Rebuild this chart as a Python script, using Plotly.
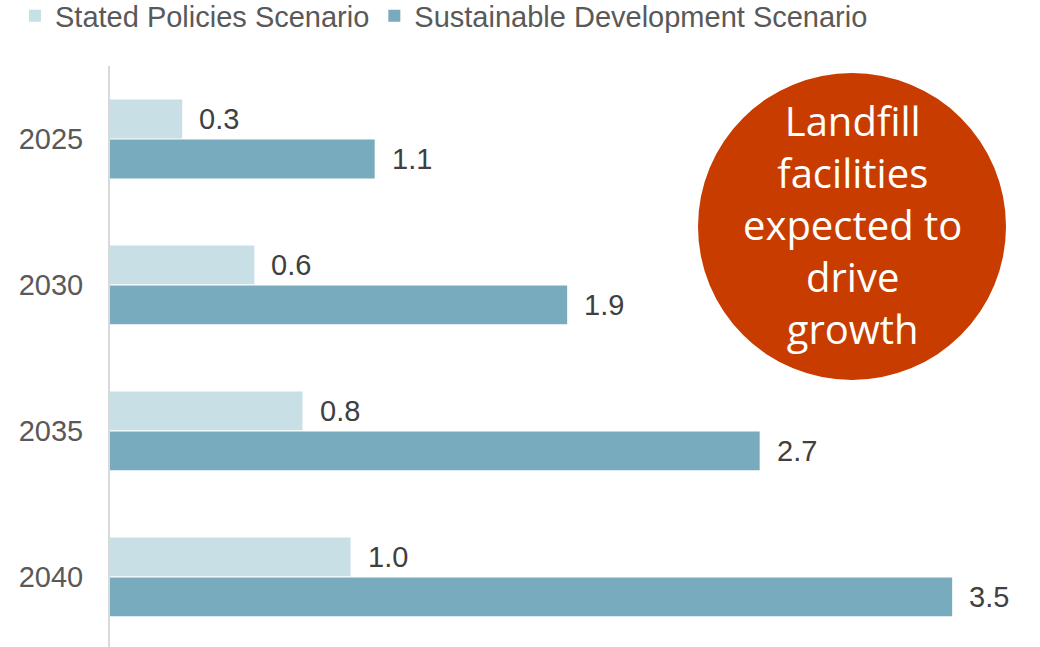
import plotly.graph_objects as go

years = ["2025", "2030", "2035", "2040"]
stated = [0.3, 0.6, 0.8, 1.0]
sustainable = [1.1, 1.9, 2.7, 3.5]
series_names = ["Stated Policies Scenario", "Sustainable Development Scenario"]
callout = "Landfill<br>facilities<br>expected to<br>drive<br>growth"

W, H = 1040, 647
L, R, T, B = 110, 0, 66, 0
pw, ph = W - L - R, H - T - B


def px_x(p):
    return (p - L) / pw


def px_y(p):
    return 1 - (p - T) / ph


light = "#c9dfe6"
dark = "#79abbf"
label_font = dict(family="Liberation Sans, Arial", size=29, color="#404040")

fig = go.Figure()
fig.add_trace(go.Bar(y=years, x=stated, orientation="h", name=series_names[0],
                     marker=dict(color=light, line=dict(width=0))))
fig.add_trace(go.Bar(y=years, x=sustainable, orientation="h", name=series_names[1],
                     marker=dict(color=dark, line=dict(width=0))))

# value labels to the right of each bar
for vals, off in ((stated, -0.135), (sustainable, 0.135)):
    for i, v in enumerate(vals):
        fig.add_annotation(x=v, y=i + off, xref="x", yref="y", text=f"{v:.1f}",
                           showarrow=False, xanchor="left", yanchor="middle", xshift=15,
                           font=label_font)

# callout circle
fig.add_shape(type="circle", xref="paper", yref="paper",
              x0=px_x(698), x1=px_x(1006), y0=px_y(380), y1=px_y(73),
              fillcolor="#c83c00", line=dict(width=0), layer="above")
fig.add_annotation(x=px_x(852), y=px_y(224), xref="paper", yref="paper", text=callout,
                   showarrow=False, xanchor="center", yanchor="middle", align="center",
                   font=dict(family="Open Sans", size=40, color="white"))

fig.update_layout(
    width=W, height=H,
    margin=dict(l=L, r=R, t=T, b=B, pad=0, autoexpand=False),
    paper_bgcolor="white", plot_bgcolor="white",
    barmode="group", bargap=0.452, bargroupgap=0.03,
    showlegend=True,
    legend=dict(orientation="h", x=px_x(15), y=px_y(16), xanchor="left", yanchor="middle",
                font=dict(family="Liberation Sans, Arial", size=29, color="#595959"),
                itemwidth=30, tracegroupgap=0, bgcolor="rgba(0,0,0,0)"),
    xaxis=dict(range=[0, 3.865], showgrid=False, zeroline=False, showticklabels=False,
               showline=False, ticks=""),
    yaxis=dict(range=[3.48, -0.5], showgrid=False, zeroline=False, showline=True,
               linecolor="#d9d9d9", linewidth=2, ticks="", ticklabelstandoff=19,
               tickfont=dict(family="Liberation Sans, Arial", size=29, color="#595959")),
)

fig.write_html("out.html")
